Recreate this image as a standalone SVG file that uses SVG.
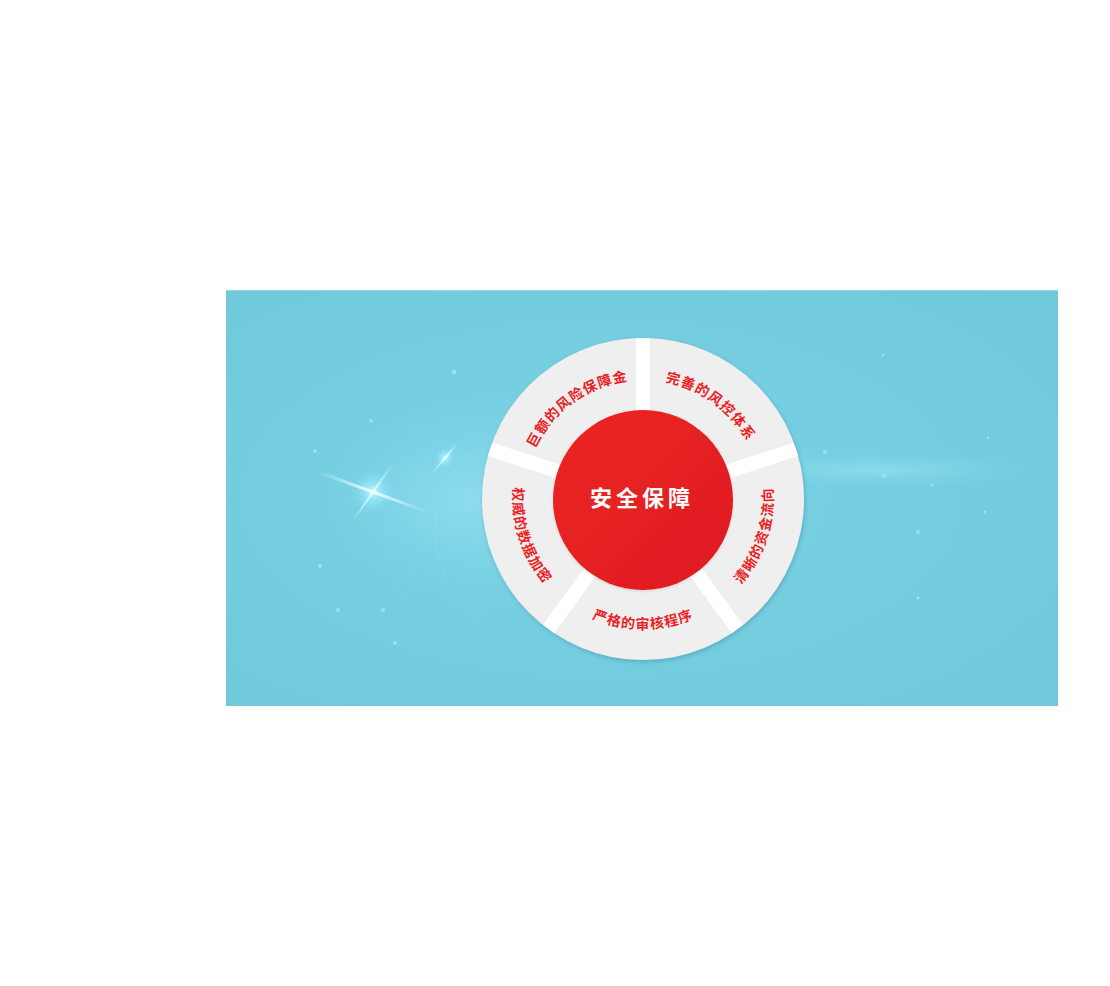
<svg xmlns="http://www.w3.org/2000/svg" width="1110" height="986" viewBox="0 0 1110 986">
  <defs>
    <radialGradient id="bgGrad" cx="0.45" cy="0.5" r="0.7">
      <stop offset="0" stop-color="#7bd3e6"/>
      <stop offset="1" stop-color="#70c8db"/>
    </radialGradient>
    <radialGradient id="glow" cx="0.5" cy="0.5" r="0.5">
      <stop offset="0" stop-color="#e8fbff" stop-opacity="1"/>
      <stop offset="0.25" stop-color="#9ef0ff" stop-opacity="0.8"/>
      <stop offset="1" stop-color="#7ad6ea" stop-opacity="0"/>
    </radialGradient>
    <radialGradient id="haze" cx="0.5" cy="0.5" r="0.5">
      <stop offset="0" stop-color="#a8ecf8" stop-opacity="0.45"/>
      <stop offset="1" stop-color="#7ad6ea" stop-opacity="0"/>
    </radialGradient>
    <linearGradient id="redGrad" x1="0" y1="0" x2="1" y2="1">
      <stop offset="0" stop-color="#ec2324"/>
      <stop offset="1" stop-color="#de1d1f"/>
    </linearGradient>
    <linearGradient id="flareH" x1="0" y1="0" x2="1" y2="0">
      <stop offset="0" stop-color="#dffaff" stop-opacity="0"/>
      <stop offset="0.5" stop-color="#f0fdff" stop-opacity="0.95"/>
      <stop offset="1" stop-color="#dffaff" stop-opacity="0"/>
    </linearGradient>
    <filter id="ringShadow" x="-10%" y="-10%" width="120%" height="120%">
      <feDropShadow dx="1" dy="2" stdDeviation="2" flood-color="#2a6f80" flood-opacity="0.35"/>
    </filter>
    <filter id="redShadow" x="-10%" y="-10%" width="120%" height="120%">
      <feDropShadow dx="0" dy="1" stdDeviation="1.5" flood-color="#000" flood-opacity="0.12"/>
    </filter>
    <clipPath id="ringClip">
      <circle cx="643" cy="499" r="161"/>
    </clipPath>
    <path id="p1" d="M524.29,490.70 A119,119 0 0 1 671.79,383.53"/>
    <path id="p2" d="M614.21,383.53 A119,119 0 0 1 761.71,490.70"/>
    <path id="p3" d="M691.70,619.53 A130,130 0 0 0 753.25,430.11"/>
    <path id="p4" d="M543.41,582.56 A130,130 0 0 0 742.59,582.56"/>
    <path id="p5" d="M532.75,430.11 A130,130 0 0 0 594.30,619.53"/>
    <style>
      .lbl { font-family: "Noto Sans CJK SC", "Noto Sans", sans-serif; font-size: 14px; font-weight: bold; fill: #ea1f26; letter-spacing: 1px; }
      .title { font-family: "Noto Sans CJK SC", "Noto Sans", sans-serif; font-size: 22px; font-weight: bold; fill: #ffffff; letter-spacing: 4px; }
      .gap { stroke: #ffffff; stroke-width: 14; }
      .dot { fill: #a6f0ff; opacity: 0.6; }
    </style>
  </defs>

  <rect x="0" y="0" width="1110" height="986" fill="#ffffff"/>

  <g id="background">
    <rect x="226" y="290" width="832" height="416" fill="url(#bgGrad)"/>
    <line x1="226" y1="290.5" x2="1058" y2="290.5" stroke="#8fdbea" stroke-width="1"/>
    <ellipse cx="470" cy="500" rx="170" ry="110" fill="url(#haze)"/>
    <ellipse cx="880" cy="470" rx="180" ry="20" fill="url(#haze)"/>
    <g fill="none" stroke="#a6e6f2" stroke-opacity="0.35" stroke-width="1">
      <path d="M440,640 A200,150 0 0 1 470,420" stroke-dasharray="2 3"/>
      <path d="M480,620 A170,130 0 0 1 500,430" stroke-dasharray="3 2"/>
      <path d="M520,410 A190,120 0 0 0 440,470" stroke-dasharray="2 2"/>
      <path d="M470,610 A180,110 0 0 0 520,600" stroke-dasharray="2 3"/>
    </g>
    <ellipse cx="373" cy="492" rx="24" ry="24" fill="url(#glow)"/>
    <rect x="313" y="490.5" width="120" height="3" fill="url(#flareH)" transform="rotate(20 373 492)"/>
    <rect x="338" y="491" width="70" height="2" fill="url(#flareH)" transform="rotate(-55 373 492)"/>
    <ellipse cx="445" cy="458" rx="12" ry="12" fill="url(#glow)"/>
    <rect x="425" y="457" width="40" height="2" fill="url(#flareH)" transform="rotate(-50 445 458)"/>
    <circle class="dot" cx="454" cy="372" r="2.5"/>
    <circle class="dot" cx="371" cy="421" r="2"/>
    <circle class="dot" cx="315" cy="451" r="2"/>
    <circle class="dot" cx="320" cy="566" r="2"/>
    <circle class="dot" cx="338" cy="610" r="2"/>
    <circle class="dot" cx="383" cy="610" r="2"/>
    <circle class="dot" cx="395" cy="643" r="2"/>
    <circle class="dot" cx="825" cy="452" r="2"/>
    <circle class="dot" cx="883" cy="355" r="1.5"/>
    <circle class="dot" cx="884" cy="476" r="2"/>
    <circle class="dot" cx="918" cy="532" r="2"/>
    <circle class="dot" cx="932" cy="485" r="1.5"/>
    <circle class="dot" cx="918" cy="598" r="1.5"/>
    <circle class="dot" cx="985" cy="512" r="1.5"/>
    <circle class="dot" cx="988" cy="438" r="1.5"/>
  </g>

  <g id="ring">
    <circle cx="643" cy="499" r="161" fill="#efefef" filter="url(#ringShadow)"/>
    <g clip-path="url(#ringClip)">
      <line class="gap" x1="643" y1="499" x2="643" y2="330"/>
      <line class="gap" x1="643" y1="499" x2="806.6" y2="445.8"/>
      <line class="gap" x1="643" y1="499" x2="744.1" y2="638.2"/>
      <line class="gap" x1="643" y1="499" x2="541.9" y2="638.2"/>
      <line class="gap" x1="643" y1="499" x2="479.4" y2="445.8"/>
    </g>
  </g>

  <g id="center">
    <circle cx="643" cy="500" r="90" fill="url(#redGrad)" filter="url(#redShadow)"/>
    <text class="title" x="642" y="506" text-anchor="middle">安全保障</text>
  </g>

  <g id="seg-top-left">
    <text class="lbl"><textPath href="#p1" startOffset="50%" text-anchor="middle">巨额的风险保障金</textPath></text>
  </g>
  <g id="seg-top-right">
    <text class="lbl"><textPath href="#p2" startOffset="50%" text-anchor="middle">完善的风控体系</textPath></text>
  </g>
  <g id="seg-right">
    <text class="lbl"><textPath href="#p3" startOffset="50%" text-anchor="middle">清晰的资金流向</textPath></text>
  </g>
  <g id="seg-bottom">
    <text class="lbl"><textPath href="#p4" startOffset="50%" text-anchor="middle">严格的审核程序</textPath></text>
  </g>
  <g id="seg-left">
    <text class="lbl"><textPath href="#p5" startOffset="50%" text-anchor="middle">权威的数据加密</textPath></text>
  </g>

  <g id="connectors"></g>
</svg>
